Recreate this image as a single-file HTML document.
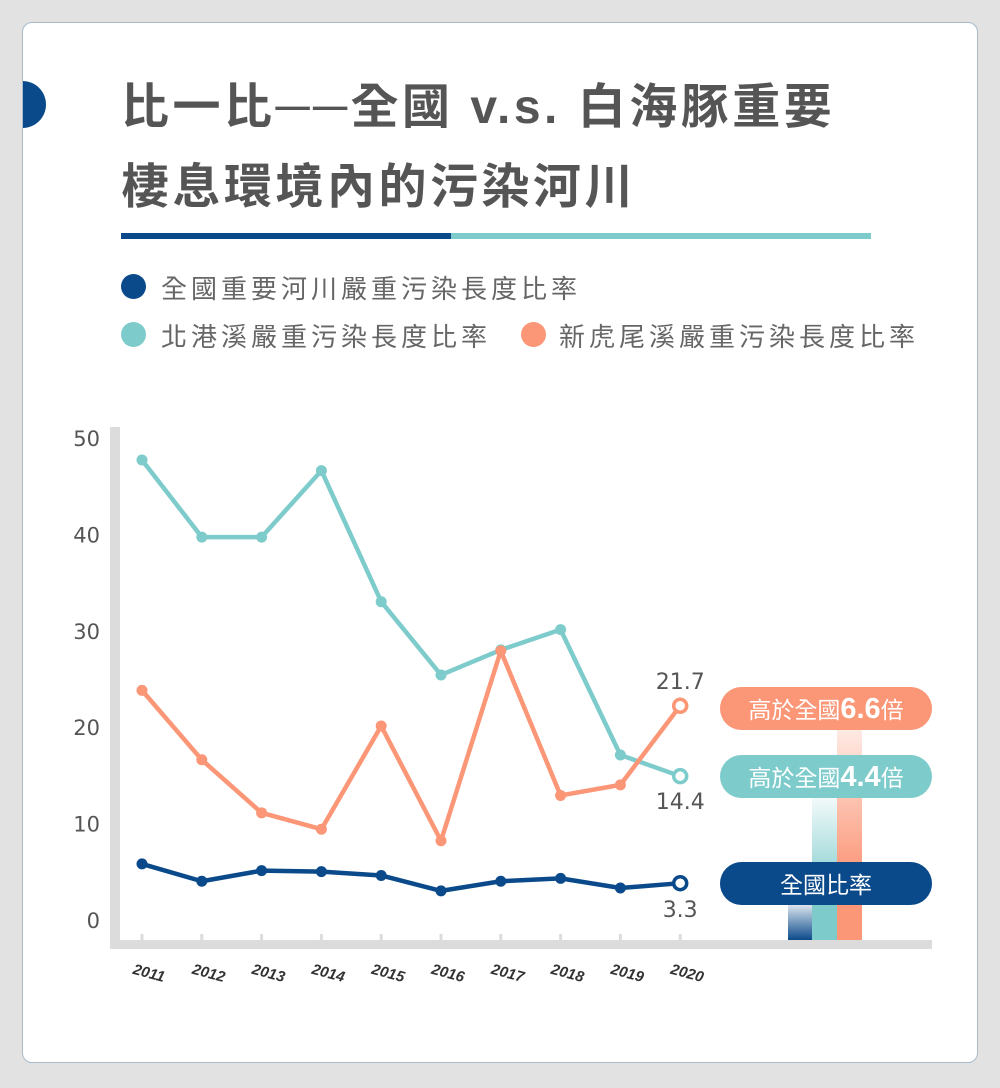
<!DOCTYPE html>
<html><head><meta charset="utf-8"><style>
body{margin:0;width:1000px;height:1088px;background:#e2e2e2;font-family:"Liberation Sans","Noto Sans CJK TC",sans-serif;overflow:hidden}
.card{position:absolute;left:22px;top:22px;width:954px;height:1039px;background:#fff;border:1px solid #a9bccb;border-radius:10px;overflow:hidden}
.t{position:absolute;left:98px;font-size:48px;font-weight:bold;color:#555;letter-spacing:3.5px;white-space:nowrap}
.leg{position:absolute;font-size:26px;color:#666;white-space:nowrap;letter-spacing:4px}
.dot{position:absolute;width:25px;height:25px;border-radius:50%}
</style></head><body>
<div class="card">
<div style="position:absolute;left:-24px;top:58px;width:47px;height:47px;border-radius:50%;background:#0b4a8a"></div>
<div class="t" style="top:44px">比一比──全國 v.s. 白海豚重要</div>
<div class="t" style="top:124px">棲息環境內的污染河川</div>
<div style="position:absolute;left:98px;top:210px;width:330px;height:6px;background:#0b4a8a"></div>
<div style="position:absolute;left:428px;top:210px;width:420px;height:6px;background:#7ecbcc"></div>
<div class="dot" style="left:98px;top:251px;background:#0b4a8a"></div>
<div class="leg" style="left:138px;top:246px">全國重要河川嚴重污染長度比率</div>
<div class="dot" style="left:98px;top:299px;background:#7ecbcc"></div>
<div class="leg" style="left:138px;top:294px">北港溪嚴重污染長度比率</div>
<div class="dot" style="left:498px;top:299px;background:#fb9677"></div>
<div class="leg" style="left:536px;top:294px">新虎尾溪嚴重污染長度比率</div>
</div>
<svg id="c" width="1000" height="1088" style="position:absolute;left:0;top:0">
<defs>
<linearGradient id="gn" x1="0" y1="0" x2="0" y2="1"><stop offset="0" stop-color="#0b4a8a" stop-opacity="0.15"/><stop offset="1" stop-color="#0b4a8a"/></linearGradient>
<linearGradient id="gt" x1="0" y1="0" x2="0" y2="1"><stop offset="0" stop-color="#7ecbcc" stop-opacity="0.1"/><stop offset="0.7" stop-color="#7ecbcc"/></linearGradient>
<linearGradient id="go" x1="0" y1="0" x2="0" y2="1"><stop offset="0" stop-color="#fb9677" stop-opacity="0.2"/><stop offset="0.7" stop-color="#fb9677"/></linearGradient>
</defs>
</svg>
<script>
const years=["2011","2012","2013","2014","2015","2016","2017","2018","2019","2020"];
const beigang=[47.2,39.2,39.2,46.1,32.5,24.9,27.5,29.6,16.6,14.4];
const xinhuwei=[23.3,16.1,10.6,8.9,19.6,7.7,27.4,12.4,13.5,21.7];
const national=[5.3,3.5,4.6,4.5,4.1,2.5,3.5,3.8,2.8,3.3];
const yTicks=[0,10,20,30,40,50];
const svg=document.getElementById('c');const NS='http://www.w3.org/2000/svg';
function X(i){return 142+i*59.8}
function Y(v){return 915-v*9.64}
function mk(t,a,p){const e=document.createElementNS(NS,t);for(const k in a)e.setAttribute(k,a[k]);(p||svg).appendChild(e);return e}
let e;
e=mk('rect',{x:110,y:427,width:10,height:521,fill:'#dcdcdc'});


e=mk('rect',{x:110,y:940,width:822,height:9,fill:'#dcdcdc'});


yTicks.forEach(v=>{e=mk('text',{x:100,y:Y(v)+13,'text-anchor':'end','font-size':21,fill:'#555','font-family':'DejaVu Sans, sans-serif'});e.textContent=v;

});
years.forEach((y,i)=>{e=mk('rect',{x:X(i)-1.5,y:934,width:3,height:6,fill:'#dcdcdc'});


e=mk('text',{x:X(i)+7,y:978,'text-anchor':'middle','font-size':15,'font-weight':'bold','font-style':'italic',fill:'#333',transform:`rotate(15 ${X(i)+7} 973)`});e.textContent=y;

});
e=mk('rect',{x:788,y:905,width:24,height:35,fill:'url(#gn)'});


e=mk('rect',{x:812,y:798,width:25,height:142,fill:'url(#gt)'});


e=mk('rect',{x:837,y:730,width:25,height:210,fill:'url(#go)'});


function series(vals,col,name){
 e=mk('polyline',{points:vals.map((v,i)=>X(i)+','+Y(v)).join(' '),fill:'none',stroke:col,'stroke-width':4.5,'stroke-linejoin':'round'});
 
 
 vals.forEach((v,i)=>{const last=i===vals.length-1;
  e=mk('circle',{cx:X(i),cy:Y(v),r:last?6.5:5.5,fill:last?'#fff':col,stroke:col,'stroke-width':last?3.5:0});
  
  });
}
series(beigang,'#7ecbcc','beigang');
series(xinhuwei,'#fb9677','xinhuwei');
series(national,'#0b4a8a','national');
function lbl(t,x,y,n){e=mk('text',{x:x,y:y,'text-anchor':'middle','font-size':22,fill:'#555','font-family':'DejaVu Sans, sans-serif'});e.textContent=t;

}
lbl(xinhuwei[9].toFixed(1),X(9),Y(xinhuwei[9])-17,'xinhuwei-end-value');
lbl(beigang[9].toFixed(1),X(9),Y(beigang[9])+33,'beigang-end-value');
lbl(national[9].toFixed(1),X(9),Y(national[9])+34,'national-end-value');
function pill(y,col,html,n){e=mk('rect',{x:720,y:y,width:212,height:43,rx:21.5,fill:col});


const t=mk('text',{x:826,y:y+31,'text-anchor':'middle','font-size':23,fill:'#fff','font-family':'Liberation Sans, Noto Sans CJK TC, sans-serif'});t.innerHTML=html;

}
pill(687,'#fb9677','高於全國<tspan font-size="29" font-weight="bold">6.6</tspan>倍','xinhuwei-ratio-pill');
pill(755,'#7ecbcc','高於全國<tspan font-size="29" font-weight="bold">4.4</tspan>倍','beigang-ratio-pill');
pill(862,'#0b4a8a','全國比率','national-ratio-pill');
</script>
</body></html>
